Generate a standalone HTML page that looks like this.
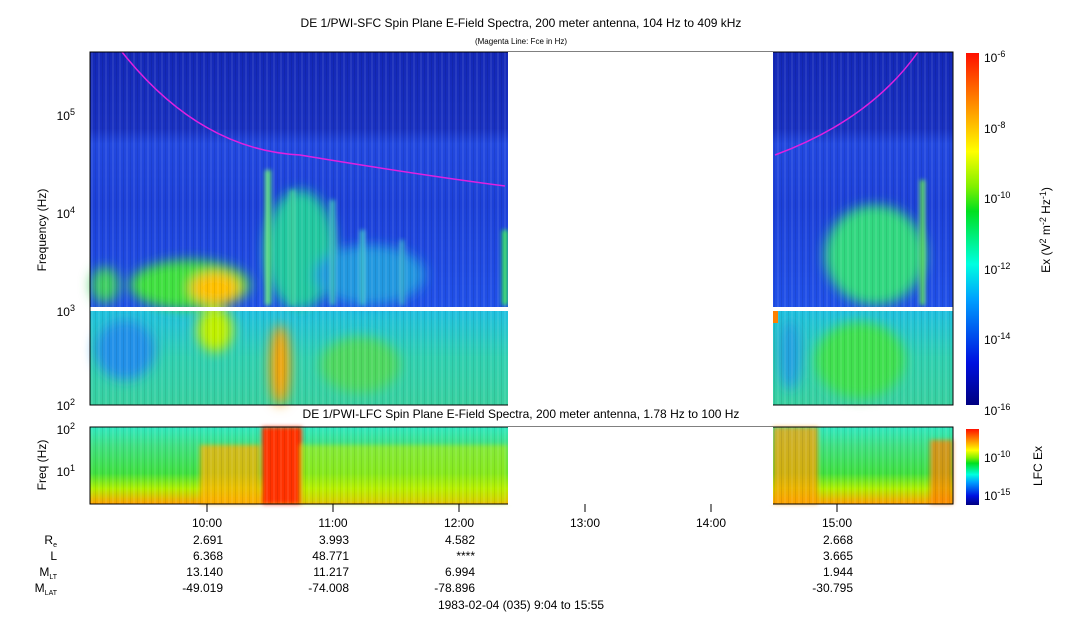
<!DOCTYPE html>
<html><head><meta charset="utf-8"><style>
body{margin:0;background:#fff;width:1083px;height:620px;overflow:hidden;font-family:"Liberation Sans",sans-serif}
svg text{font-family:"Liberation Sans",sans-serif;fill:#000}
</style></head><body>
<svg width="1083" height="620" xmlns="http://www.w3.org/2000/svg">
<defs>
<linearGradient id="cb" x1="0" y1="1" x2="0" y2="0">
<stop offset="0" stop-color="#000080"/><stop offset="0.12" stop-color="#0010e0"/><stop offset="0.3" stop-color="#00a0ff"/><stop offset="0.4" stop-color="#00ffe0"/><stop offset="0.55" stop-color="#00e020"/><stop offset="0.62" stop-color="#80f000"/><stop offset="0.72" stop-color="#ffff00"/><stop offset="0.85" stop-color="#ff9000"/><stop offset="1" stop-color="#ff1000"/>
</linearGradient>
<linearGradient id="top" x1="0" y1="0" x2="0" y2="1">
<stop offset="0" stop-color="#1428b8"/><stop offset="0.3" stop-color="#1830c0"/><stop offset="0.36" stop-color="#2248e0"/><stop offset="0.6" stop-color="#1c40d8"/><stop offset="1" stop-color="#2050e8"/>
</linearGradient>
<linearGradient id="low" x1="0" y1="0" x2="0" y2="1">
<stop offset="0" stop-color="#20c0e0"/><stop offset="0.5" stop-color="#30d0b0"/><stop offset="1" stop-color="#38d0a0"/>
</linearGradient>
<linearGradient id="lfc" x1="0" y1="0" x2="0" y2="1">
<stop offset="0" stop-color="#30e8c0"/><stop offset="0.25" stop-color="#40e080"/><stop offset="0.6" stop-color="#40e040"/><stop offset="0.8" stop-color="#b0f000"/><stop offset="1" stop-color="#ffa000"/>
</linearGradient>
<pattern id="str" width="7" height="10" patternUnits="userSpaceOnUse"><rect width="2" height="10" fill="#fff" opacity="0.08"/><rect x="4" width="1" height="10" fill="#000" opacity="0.08"/></pattern>
<filter id="b"><feGaussianBlur stdDeviation="6"/></filter>
<filter id="b2"><feGaussianBlur stdDeviation="2"/></filter>
</defs>
<text x="521" y="27" font-size="12" text-anchor="middle">DE 1/PWI-SFC  Spin Plane E-Field Spectra, 200 meter antenna, 104 Hz to 409 kHz</text>
<text x="521" y="44" font-size="8" text-anchor="middle">(Magenta Line: Fce in Hz)</text>
<g>
<rect x="90" y="52" width="418" height="255" fill="url(#top)"/>
<rect x="773" y="52" width="180" height="255" fill="url(#top)"/>
<rect x="90" y="311" width="418" height="94" fill="url(#low)"/>
<rect x="773" y="311" width="180" height="94" fill="url(#low)"/>
<g filter="url(#b)">
<ellipse cx="190" cy="285" rx="60" ry="25" fill="#40e040"/>
<ellipse cx="215" cy="288" rx="25" ry="16" fill="#ffc000"/>
<ellipse cx="105" cy="285" rx="14" ry="18" fill="#40d060"/>
<ellipse cx="300" cy="250" rx="35" ry="60" fill="#20c8a0"/>
<ellipse cx="370" cy="275" rx="55" ry="30" fill="#2098e0"/>
<ellipse cx="875" cy="255" rx="50" ry="50" fill="#30d880"/>
<ellipse cx="215" cy="330" rx="18" ry="22" fill="#c0f000"/>
<ellipse cx="280" cy="365" rx="10" ry="40" fill="#ffa000"/>
<ellipse cx="125" cy="350" rx="30" ry="30" fill="#2090e8"/>
<ellipse cx="860" cy="360" rx="45" ry="38" fill="#40e050"/>
<ellipse cx="360" cy="365" rx="40" ry="28" fill="#50d860"/>
<ellipse cx="790" cy="355" rx="12" ry="35" fill="#20a0e0"/>
</g>
<g filter="url(#b2)">
<rect x="265" y="170" width="6" height="135" fill="#60e080"/>
<rect x="290" y="190" width="5" height="115" fill="#40d0a0"/>
<rect x="330" y="200" width="5" height="105" fill="#40c0c0"/>
<rect x="360" y="230" width="5" height="75" fill="#40c0d0"/>
<rect x="400" y="240" width="4" height="65" fill="#40b0d0"/>
<rect x="502" y="230" width="6" height="75" fill="#30e060"/>
<rect x="920" y="180" width="5" height="125" fill="#60e060"/>
</g>
<rect x="90" y="52" width="418" height="353" fill="url(#str)"/>
<rect x="773" y="52" width="180" height="353" fill="url(#str)"/>
<rect x="773" y="311" width="5" height="12" fill="#ff8000"/>
<path d="M122 52 Q200 150 300 155 Q420 175 505 186" stroke="#e020e0" stroke-width="1.5" fill="none"/>
<path d="M775 155 Q870 120 918 52" stroke="#e020e0" stroke-width="1.5" fill="none"/>
<rect x="90" y="52" width="863" height="353" fill="none" stroke="#000"/>
<rect x="508" y="52" width="265" height="354" fill="#fff"/>
<rect x="90.5" y="307" width="862" height="4" fill="#fff"/>
</g>
<text x="75" y="120" font-size="12" text-anchor="end">10<tspan dy="-5" font-size="9">5</tspan></text>
<text x="75" y="218" font-size="12" text-anchor="end">10<tspan dy="-5" font-size="9">4</tspan></text>
<text x="75" y="316" font-size="12" text-anchor="end">10<tspan dy="-5" font-size="9">3</tspan></text>
<text x="75" y="410" font-size="12" text-anchor="end">10<tspan dy="-5" font-size="9">2</tspan></text>
<text transform="translate(46,230) rotate(-90)" font-size="12" text-anchor="middle">Frequency (Hz)</text>
<rect x="966" y="53" width="13" height="352" fill="url(#cb)"/>
<g font-size="12">
<text x="984" y="62">10<tspan dy="-5" font-size="9">-6</tspan></text>
<text x="984" y="133">10<tspan dy="-5" font-size="9">-8</tspan></text>
<text x="984" y="203">10<tspan dy="-5" font-size="9">-10</tspan></text>
<text x="984" y="274">10<tspan dy="-5" font-size="9">-12</tspan></text>
<text x="984" y="344">10<tspan dy="-5" font-size="9">-14</tspan></text>
<text x="984" y="415">10<tspan dy="-5" font-size="9">-16</tspan></text>
</g>
<text transform="translate(1050,230) rotate(-90)" font-size="12" text-anchor="middle">Ex (V<tspan dy="-4" font-size="9">2</tspan><tspan dy="4"> m</tspan><tspan dy="-4" font-size="9">-2</tspan><tspan dy="4"> Hz</tspan><tspan dy="-4" font-size="9">-1</tspan><tspan dy="4">)</tspan></text>
<text x="521" y="418" font-size="12" text-anchor="middle">DE 1/PWI-LFC  Spin Plane E-Field Spectra, 200 meter antenna, 1.78 Hz to 100 Hz</text>
<rect x="90" y="427" width="418" height="77" fill="url(#lfc)"/>
<rect x="773" y="427" width="180" height="77" fill="url(#lfc)"/>
<g filter="url(#b2)">
<rect x="200" y="445" width="60" height="59" fill="#ffb000" opacity="0.75"/>
<rect x="262" y="427" width="40" height="77" fill="#ff3000"/>
<rect x="300" y="445" width="208" height="59" fill="#c0f000" opacity="0.55"/>
<rect x="773" y="427" width="45" height="77" fill="#ffa000" opacity="0.75"/>
<rect x="930" y="440" width="23" height="64" fill="#ff8000" opacity="0.75"/>
</g>
<rect x="90" y="427" width="418" height="77" fill="url(#str)"/>
<rect x="773" y="427" width="180" height="77" fill="url(#str)"/>
<rect x="90" y="427" width="863" height="77" fill="none" stroke="#000"/>
<rect x="508" y="427" width="265" height="78" fill="#fff"/>
<text x="75" y="434" font-size="12" text-anchor="end">10<tspan dy="-5" font-size="9">2</tspan></text>
<text x="75" y="476" font-size="12" text-anchor="end">10<tspan dy="-5" font-size="9">1</tspan></text>
<text transform="translate(46,465) rotate(-90)" font-size="12" text-anchor="middle">Freq (Hz)</text>
<rect x="966" y="429" width="13" height="76" fill="url(#cb)"/>
<text x="984" y="462" font-size="12">10<tspan dy="-5" font-size="9">-10</tspan></text>
<text x="984" y="500" font-size="12">10<tspan dy="-5" font-size="9">-15</tspan></text>
<text transform="translate(1042,466) rotate(-90)" font-size="12" text-anchor="middle">LFC Ex</text>
<g stroke="#000">
<line x1="207" y1="504" x2="207" y2="512"/><line x1="333" y1="504" x2="333" y2="512"/><line x1="459" y1="504" x2="459" y2="512"/><line x1="585" y1="504" x2="585" y2="512"/><line x1="711" y1="504" x2="711" y2="512"/><line x1="837" y1="504" x2="837" y2="512"/>
</g>
<g font-size="12" text-anchor="middle">
<text x="207" y="527">10:00</text><text x="333" y="527">11:00</text><text x="459" y="527">12:00</text><text x="585" y="527">13:00</text><text x="711" y="527">14:00</text><text x="837" y="527">15:00</text>
</g>
<g font-size="12" text-anchor="end">
<text x="223" y="544">2.691</text><text x="349" y="544">3.993</text><text x="475" y="544">4.582</text><text x="853" y="544">2.668</text>
<text x="223" y="560">6.368</text><text x="349" y="560">48.771</text><text x="475" y="560">****</text><text x="853" y="560">3.665</text>
<text x="223" y="576">13.140</text><text x="349" y="576">11.217</text><text x="475" y="576">6.994</text><text x="853" y="576">1.944</text>
<text x="223" y="592">-49.019</text><text x="349" y="592">-74.008</text><text x="475" y="592">-78.896</text><text x="853" y="592">-30.795</text>
<text x="57" y="544">R<tspan font-size="7" dy="3">e</tspan></text>
<text x="57" y="560">L</text>
<text x="57" y="576">M<tspan font-size="7" dy="3">LT</tspan></text>
<text x="57" y="592">M<tspan font-size="7" dy="3">LAT</tspan></text>
</g>
<text x="521" y="609" font-size="12" text-anchor="middle">1983-02-04 (035) 9:04 to 15:55</text>
</svg>
</body></html>
